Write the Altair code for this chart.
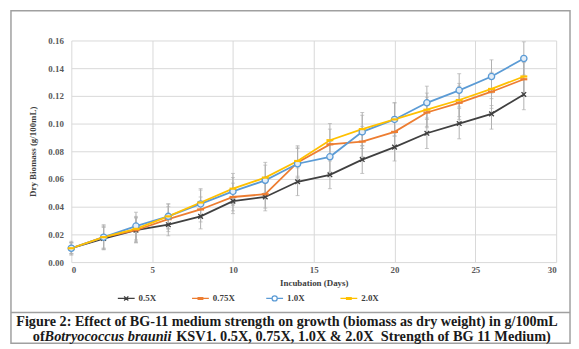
import altair as alt
import pandas as pd

# ---- data ----
days = [0, 2, 4, 6, 8, 10, 12, 14, 16, 18, 20, 22, 24, 26, 28]
series_names = ["0.5X", "0.75X", "1.0X", "2.0X"]
biomass_05 = [0.010, 0.017, 0.023, 0.027, 0.033, 0.044, 0.047, 0.058, 0.063, 0.074, 0.083, 0.093, 0.100, 0.107, 0.121]
biomass_075 = [0.010, 0.018, 0.023, 0.031, 0.038, 0.047, 0.049, 0.072, 0.085, 0.087, 0.094, 0.108, 0.115, 0.123, 0.132]
biomass_10 = [0.010, 0.018, 0.026, 0.033, 0.042, 0.051, 0.059, 0.071, 0.076, 0.094, 0.103, 0.115, 0.124, 0.134, 0.147]
biomass_20 = [0.010, 0.018, 0.024, 0.033, 0.043, 0.053, 0.061, 0.073, 0.088, 0.096, 0.103, 0.110, 0.117, 0.125, 0.134]
err_05 = [0.004, 0.008, 0.009, 0.008, 0.009, 0.009, 0.010, 0.010, 0.010, 0.010, 0.010, 0.011, 0.011, 0.011, 0.011]
err_075 = [0.004, 0.008, 0.009, 0.009, 0.009, 0.010, 0.010, 0.011, 0.011, 0.011, 0.011, 0.011, 0.012, 0.012, 0.012]
err_10 = [0.005, 0.009, 0.010, 0.009, 0.010, 0.010, 0.011, 0.011, 0.011, 0.012, 0.012, 0.012, 0.012, 0.012, 0.012]
err_20 = [0.004, 0.008, 0.009, 0.009, 0.010, 0.011, 0.011, 0.011, 0.012, 0.012, 0.012, 0.012, 0.012, 0.012, 0.012]
x_ticks = [0, 5, 10, 15, 20, 25, 30]
y_ticks = [0.00, 0.02, 0.04, 0.06, 0.08, 0.10, 0.12, 0.14, 0.16]
colors = ["#404040", "#ED7D31", "#5B9BD5", "#FFC000"]

x_title = "Incubation (Days)"
y_title = "Dry Biomass (g/100mL)"
caption_1 = "Figure 2: Effect of BG-11 medium strength on growth (biomass as dry weight) in g/100mL"
caption_2a = "of"
caption_2b = "Botryococcus braunii"
caption_2c = "KSV1. 0.5X, 0.75X, 1.0X & 2.0X\u00a0\u00a0Strength of BG 11 Medium)"

rows = []
for name, vals, errs in zip(series_names,
                            [biomass_05, biomass_075, biomass_10, biomass_20],
                            [err_05, err_075, err_10, err_20]):
    for d, v, e in zip(days, vals, errs):
        rows.append({"day": d, "series": name, "biomass": v, "err": e})
df = pd.DataFrame(rows)

W, H = 490, 224
FONT = "Liberation Serif"

x_scale = alt.Scale(domain=[0, 30], nice=False)
y_scale = alt.Scale(domain=[0, 0.16], nice=False)
x_axis = alt.Axis(values=x_ticks, title=x_title, labelPadding=4, titlePadding=4)
y_axis = alt.Axis(values=y_ticks, format=".2f", title=y_title, labelPadding=8, titlePadding=10)
x_enc = alt.X("day:Q", scale=x_scale, axis=x_axis)
y_enc = alt.Y("biomass:Q", scale=y_scale, axis=y_axis)
color_scale = alt.Scale(domain=series_names, range=colors)

base = alt.Chart(df)

errbars = base.transform_calculate(
    lo="datum.biomass - datum.err", hi="datum.biomass + datum.err"
).mark_errorbar(color="#b0b0b0", thickness=1, ticks={"size": 4, "color": "#b0b0b0"}).encode(
    x=x_enc,
    y=alt.Y("lo:Q", scale=y_scale, axis=y_axis),
    y2="hi:Q",
)

line_layers = []
for name, col in zip(series_names, colors):
    line_layers.append(
        base.transform_filter(alt.datum.series == name).mark_line(strokeWidth=1.8, color=col).encode(
            x=x_enc, y=y_enc
        )
    )

marker_specs = [
    ("0.5X", dict(shape="M-1,-1L1,1M-1,1L1,-1", size=22, filled=False, stroke=colors[0], strokeWidth=1.3)),
    ("0.75X", dict(shape="M-1,0L1,0", size=49, filled=False, stroke=colors[1], strokeWidth=2.2)),
    ("1.0X", dict(shape="circle", size=40, filled=True, fill="#e3edf7", fillOpacity=1, stroke=colors[2], strokeWidth=1.3)),
    ("2.0X", dict(shape="M-1,0L1,0", size=49, filled=False, stroke=colors[3], strokeWidth=2.2)),
]
marker_layers = []
for name, spec in marker_specs:
    marker_layers.append(
        base.transform_filter(alt.datum.series == name).mark_point(opacity=1, **spec).encode(
            x=x_enc, y=y_enc
        )
    )

legend_paths = [
    "M-1,0L1,0M-0.25,-0.25L0.25,0.25M-0.25,0.25L0.25,-0.25",
    "M-1,0L1,0M-0.35,-0.1L0.35,-0.1M-0.35,0.1L0.35,0.1",
    "M-1,0L-0.3,0M0.3,0L1,0M0.3,0A0.3,0.3 0 1,1 -0.3,0A0.3,0.3 0 1,1 0.3,0",
    "M-1,0L1,0M-0.35,-0.1L0.35,-0.1M-0.35,0.1L0.35,0.1",
]
legend_common = dict(
    title=None, orient="none", legendX=46, legendY=251, direction="horizontal", columns=4,
    gridAlign="all", columnPadding=28, labelFont=FONT, labelFontWeight="bold", labelFontSize=9,
    labelColor="#404040", labelOffset=3, symbolSize=289, symbolStrokeWidth=1.3,
)
legend_layer = base.mark_point(size=289, filled=False, strokeWidth=1.3, opacity=0).encode(
    x=x_enc, y=y_enc,
    color=alt.Color("series:N", scale=color_scale, legend=alt.Legend(symbolOpacity=1, **legend_common)),
    shape=alt.Shape("series:N", scale=alt.Scale(domain=series_names, range=legend_paths),
                    legend=alt.Legend(symbolOpacity=1, **legend_common)),
)

one = pd.DataFrame({"k": [0]})
frame = alt.Chart(one).mark_rect(filled=False, stroke="#a0a0a0", strokeWidth=1.5).encode(
    x=alt.value(-61), x2=alt.value(504), y=alt.value(-30), y2=alt.value(306)
)
separator = alt.Chart(one).mark_rule(stroke="#a0a0a0", strokeWidth=1.5).encode(
    x=alt.value(-61), x2=alt.value(504), y=alt.value(275)
)
txt = dict(font=FONT, fontWeight="bold", baseline="middle", color="#1a1a1a")
cap1 = alt.Chart(one).mark_text(align="center", fontSize=14.3, **txt).encode(
    x=alt.value(218), y=alt.value(285), text=alt.value(caption_1))
cap2a = alt.Chart(one).mark_text(align="left", fontSize=14.5, **txt).encode(
    x=alt.value(-39), y=alt.value(300), text=alt.value(caption_2a))
cap2b = alt.Chart(one).mark_text(align="left", fontStyle="italic", fontSize=14.5, **txt).encode(
    x=alt.value(-27), y=alt.value(300), text=alt.value(caption_2b))
cap2c = alt.Chart(one).mark_text(align="left", fontSize=14.5, **txt).encode(
    x=alt.value(106), y=alt.value(300), text=alt.value(caption_2c))

chart = alt.layer(
    frame, separator, errbars, *line_layers, *marker_layers, legend_layer, cap1, cap2a, cap2b, cap2c
).properties(
    width=W, height=H,
    padding={"left": 64, "top": 31, "right": 15, "bottom": 84},
    autosize=alt.AutoSizeParams(type="none"),
    background="white",
).configure_view(stroke=None).configure_axis(
    labelFont=FONT, labelFontWeight="bold", labelFontSize=9, labelColor="#595959",
    titleFont=FONT, titleFontWeight="bold", titleFontSize=9, titleColor="#404040",
    grid=True, gridColor="#d9d9d9", gridWidth=1, domain=False, ticks=False,
)

chart.save("out.html", embed_options={"renderer": "svg", "actions": False})
